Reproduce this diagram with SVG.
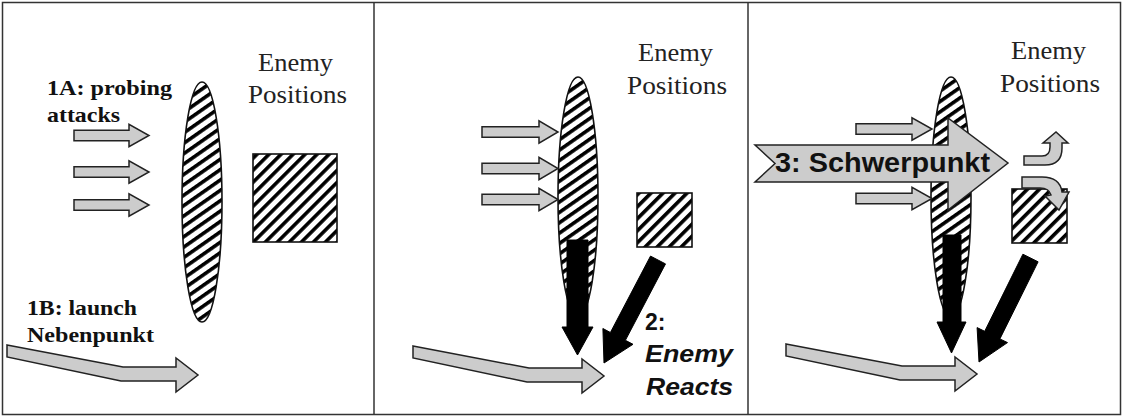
<svg xmlns="http://www.w3.org/2000/svg" width="1123" height="417" viewBox="0 0 1123 417">
  <style>
    .frame { fill: none; stroke: #333; stroke-width: 1.5; }
    .probe { fill: #cccccc; stroke: #222; stroke-width: 1.5; stroke-linejoin: miter; }
    .react { fill: #000; stroke: #000; stroke-width: 1; }
    .pos-line { fill: url(#hatchLine); stroke: #111; stroke-width: 1.6; }
    .pos-box { fill: url(#hatchBox); stroke: #111; stroke-width: 1.6; }
    .serif { font-family: "Liberation Serif", "Times New Roman", serif; font-size: 26px; fill: #222; }
    .serif-b { font-family: "Liberation Serif", "Times New Roman", serif; font-size: 22px; font-weight: bold; fill: #111; }
    .sans-b { font-family: "Liberation Sans", Arial, sans-serif; font-weight: bold; fill: #111; }
  </style>
  <defs>
    <pattern id="hatchBox" patternUnits="userSpaceOnUse" width="8.5" height="12" patternTransform="rotate(45)">
      <rect width="8.5" height="12" fill="#fff"/>
      <rect width="3.6" height="12" fill="#000"/>
    </pattern>
    <pattern id="hatchLine" patternUnits="userSpaceOnUse" width="8.5" height="12" patternTransform="rotate(55)">
      <rect width="8.5" height="12" fill="#fff"/>
      <rect width="3.6" height="12" fill="#000"/>
    </pattern>
  </defs>

  <!-- frames -->
  <g id="frames">
    <rect class="frame" x="2.5" y="2.5" width="1118" height="412"/>
    <line class="frame" x1="374" y1="2.5" x2="374" y2="414.5"/>
    <line class="frame" x1="748" y1="2.5" x2="748" y2="414.5"/>
  </g>

  <!-- phase 1 -->
  <g id="p1-line"><ellipse class="pos-line" cx="202" cy="202" rx="20" ry="120"/></g>
  <g id="p1-box"><rect class="pos-box" x="253" y="154" width="84" height="88"/></g>
  <g id="p1-label-enemy">
    <text class="serif" x="295.5" y="71" text-anchor="middle" textLength="75" lengthAdjust="spacingAndGlyphs">Enemy</text>
    <text class="serif" x="297.5" y="103" text-anchor="middle" textLength="99" lengthAdjust="spacingAndGlyphs">Positions</text>
  </g>
  <g id="p1-label-1a">
    <text class="serif-b" x="47" y="95" textLength="125" lengthAdjust="spacingAndGlyphs">1A: probing</text>
    <text class="serif-b" x="47" y="122" textLength="73" lengthAdjust="spacingAndGlyphs">attacks</text>
  </g>
  <g id="p1-label-1b">
    <text class="serif-b" x="27" y="315" textLength="110" lengthAdjust="spacingAndGlyphs">1B: launch</text>
    <text class="serif-b" x="27" y="342" textLength="127" lengthAdjust="spacingAndGlyphs">Nebenpunkt</text>
  </g>

  <!-- phase 2 -->
  <g id="p2-line"><ellipse class="pos-line" cx="578" cy="197" rx="20" ry="120"/></g>
  <g id="p2-box"><rect class="pos-box" x="637" y="193" width="55" height="54"/></g>
  <g id="p2-label-enemy">
    <text class="serif" x="675.5" y="61" text-anchor="middle" textLength="75" lengthAdjust="spacingAndGlyphs">Enemy</text>
    <text class="serif" x="677" y="94" text-anchor="middle" textLength="100" lengthAdjust="spacingAndGlyphs">Positions</text>
  </g>
  <g id="p2-label-react">
    <text class="sans-b" x="645" y="330" font-size="23">2:</text>
    <text class="sans-b" x="645" y="362" font-size="23" font-style="italic" textLength="88" lengthAdjust="spacingAndGlyphs">Enemy</text>
    <text class="sans-b" x="646" y="395" font-size="23" font-style="italic" textLength="87" lengthAdjust="spacingAndGlyphs">Reacts</text>
  </g>

  <!-- phase 3 -->
  <g id="p3-line"><ellipse class="pos-line" cx="951" cy="197" rx="20" ry="120"/></g>
  <g id="p3-box"><rect class="pos-box" x="1012" y="189" width="55" height="54"/></g>
  <g id="p3-label-enemy">
    <text class="serif" x="1048.5" y="59" text-anchor="middle" textLength="75" lengthAdjust="spacingAndGlyphs">Enemy</text>
    <text class="serif" x="1050" y="92" text-anchor="middle" textLength="100" lengthAdjust="spacingAndGlyphs">Positions</text>
  </g>

  <!-- connectors -->
  <g id="connectors">
    <!-- phase 1 probing attacks -->
    <polygon class="probe" points="74,130.2 129,130.2 129,124.3 149,135.5 129,146.7 129,140.8 74,140.8"/>
    <polygon class="probe" points="74,166.7 129,166.7 129,160.8 149,172 129,183.2 129,177.3 74,177.3"/>
    <polygon class="probe" points="74,199.7 129,199.7 129,193.8 149,205 129,216.2 129,210.3 74,210.3"/>
    <!-- phase 1 Nebenpunkt -->
    <polygon class="probe" points="7,345 123,367 176,367 176,358 198,375 176,392 176,381 121,381 7,357"/>

    <!-- phase 2 probing attacks -->
    <polygon class="probe" points="482,126.7 539,126.7 539,120.8 558,132 539,143.2 539,137.3 482,137.3"/>
    <polygon class="probe" points="482,163.2 539,163.2 539,157.3 558,168.5 539,179.7 539,173.8 482,173.8"/>
    <polygon class="probe" points="482,194.2 539,194.2 539,188.3 558,199.5 539,210.7 539,204.8 482,204.8"/>
    <!-- phase 2 Nebenpunkt -->
    <polygon class="probe" points="413,346 529,368 582,368 582,359 604,376 582,393 582,382 527,382 413,358"/>
    <!-- phase 2 enemy reactions -->
    <polygon class="react" points="567,240 588,240 588,327 593,327 577.5,355 562,327 567,327"/>
    <polygon class="react" points="650.5,256.1 665.5,263.9 625.4,340.3 633,344.3 604,363 602.9,328.5 610.4,332.5"/>

    <!-- phase 3 probing attacks -->
    <polygon class="probe" points="856,123.7 912,123.7 912,117.8 932,129 912,140.2 912,134.3 856,134.3"/>
    <polygon class="probe" points="856,193.2 912,193.2 912,187.3 932,198.5 912,209.7 912,203.8 856,203.8"/>
    <!-- phase 3 Nebenpunkt -->
    <polygon class="probe" points="786,344 902,366 955,366 955,357 977,374 955,391 955,380 900,380 786,356"/>
    <!-- phase 3 enemy reactions -->
    <polygon class="react" points="943,235 961,235 961,322 966,322 951.5,353 937,322 943,322"/>
    <polygon class="react" points="1022.9,254.2 1038.1,261.8 999.9,338.9 1007.5,342.6 979,362 977.1,327.6 984.7,331.3"/>
    <!-- phase 3 Schwerpunkt -->
    <polygon class="probe" points="755,145 948,145 948,118 1008,163 948,210 948,182 755,182 775,163.5"/>
    <!-- phase 3 enemy withdrawal -->
    <path class="probe" d="M1024,156 L1042,156 Q1050,156 1050,147 L1050,143 L1043,143 L1056,132 L1068,143 L1062,143 L1062,148 Q1062,165 1045,165 L1024,165 Z"/>
    <path class="probe" d="M1022,177 L1042,177 Q1060,177 1062,192 L1069,192 L1059,210 L1045,196 L1051,195 Q1049,188 1040,188 L1022,188 Z"/>
  </g>
  <g id="p3-label-main">
    <text class="sans-b" x="775" y="172" font-size="28" textLength="215" lengthAdjust="spacingAndGlyphs">3: Schwerpunkt</text>
  </g>
</svg>
